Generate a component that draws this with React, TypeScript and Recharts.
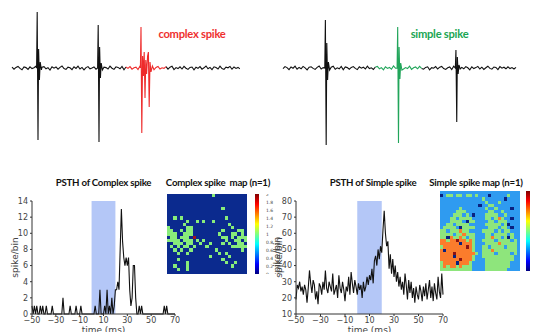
import React from "react";
import {Bar, BarChart, Label, Line, LineChart, ReferenceArea, Scatter, ScatterChart, XAxis, YAxis} from "recharts";

// raw recordings, µV, one noise sample per step
const complexNoise = [
    4, -6, 3, 8, -2, -9, 5, 2, -7, 6, -3, 1, 9, -5,
    -8, 4, 7, -4, 2, -10, 6, -1, 5, -6, 3, 10, -3, -7,
    4, 1, -8, 6, -2, 9, -5, 3, -9, 2, 7, -4, 0, 5,
    -6, 8, -3, -8, 4, 2, -5, 9, -1, -7, 6, 3, -4, 8,
    -9, 5, -2, 7, -6, 1, 4, -8, 10, -3, 5, -7, 2, 6,
    -4, -9, 3, 8, -5, 1, -2, 7, -6, 4, 9, -8, 2, -3,
    6, -5, 8, -1, -7, 3, 5, -9, 4, -2, 7, -6, 1, 10,
    -4, 3, -8, 6, 2, -5, 9, -3, -7, 4, 1, 8, -6, 5, -2, 3, -4,
];
const simpleNoise = [
    -3, 7, 2, -8, 5, -1, 9, -6, 3, -4, 8, 1, -9, 4,
    6, -2, -7, 3, 10, -5, 2, -8, 7, -3, 4, 9, -6, 1,
    -4, 8, -9, 5, 2, -6, 3, 7, -2, -8, 6, -1, 4, -5,
    9, -3, 1, -7, 5, 8, -4, 2, -9, 6, -2, 3, -6, 10,
    -1, -8, 4, 7, -5, 2, -3, 9, -7, 1, 5, -4, 8, -2,
    -6, 3, 6, -9, 2, -1, 7, -5, 4, 8, -3, -7, 1, 5,
    -8, 9, -2, 4, -6, 3, -4, 7, 1, -9, 6, -3, 2, 8,
    -5, 4, -7, 1, 9, -2, -6, 5, 3, -8, 7, -1, 4, -4, 6, -3, 2, -5, 3,
];

type Spike = { t: number; wave: number[][] };

// spike onset (sample) and waveform [offset, µV]
const complexTraceSpikes: Spike[] = [
    {t: 12.3, wave: [[0, 0], [0.3, 280], [0.7, -360], [1.0, 95], [1.4, -60], [1.8, 30], [2.4, -10]]},
    {t: 42.8, wave: [[0, 0], [0.3, 215], [0.7, -370], [1.0, 105], [1.4, -50], [1.8, 25], [2.4, -10]]},
    {
        t: 64.2, wave: [[0, 0], [0.3, 205], [0.7, -325], [1.1, 60], [1.5, -40], [1.9, 80], [2.3, -150],
            [2.7, 40], [3.1, -30], [3.6, 60], [4.0, 80], [4.4, -195], [4.8, 30], [5.3, -20], [6.0, 10]]
    },
];
const simpleTraceSpikes: Spike[] = [
    {t: 20.8, wave: [[0, 0], [0.3, 240], [0.7, -385], [1.0, 125], [1.4, -60], [1.8, 30], [2.4, -10]]},
    {t: 56.8, wave: [[0, 0], [0.3, 205], [0.7, -375], [1.0, 105], [1.4, -55], [1.8, 25], [2.4, -10]]},
    {t: 85.8, wave: [[0, 0], [0.3, 90], [0.7, -270], [1.0, 55], [1.4, -30], [1.8, 15], [2.4, -5]]},
];

const complexWindow = [57, 77];
const simpleWindow = [46, 69];

// PSTH, 1 ms bins
const psthStart = -50;
const complexCounts = [
    1, 0, 1, 0, 1, 0, 0, 1, 0, 1,
    0, 0, 1, 0, 0, 0, 0, 1, 0, 0,
    0, 0, 0, 0, 0, 0, 2, 0, 0, 0,
    0, 0, 1, 0, 0, 0, 0, 1, 0, 0,
    0, 1, 0, 0, 0, 0, 0, 0, 0, 0,
    0, 0, 0, 1, 0, 0, 0, 3, 0, 0,
    0, 1, 0, 3, 0, 1, 0, 2, 0, 1,
    3, 3, 4, 3, 8, 13, 9, 7, 6, 7,
    6, 7, 3, 1, 2, 6, 6, 2, 0, 0,
    1, 0, 1, 0, 0, 0, 0, 0, 0, 0,
    0, 0, 0, 0, 0, 0, 0, 0, 0, 0,
    0, 1, 0, 1, 0, 0, 0, 0, 0, 0,
    0,
];
const simpleCounts = [
    19, 28, 26, 30, 24, 27, 22, 28, 25, 17,
    26, 37, 29, 23, 31, 28, 19, 24, 16, 29,
    27, 22, 30, 25, 37, 26, 23, 30, 27, 24,
    35, 22, 25, 28, 20, 34, 26, 23, 30, 25,
    18, 27, 24, 33, 22, 36, 29, 23, 31, 27,
    22, 29, 25, 28, 20, 30, 24, 27, 33, 28,
    34, 31, 38, 29, 43, 46, 40, 50, 44, 52,
    48, 62, 74, 60, 52, 55, 38, 47, 35, 44,
    33, 40, 30, 36, 27, 33, 25, 30, 22, 35,
    28, 19, 31, 23, 30, 20, 26, 17, 27, 22,
    19, 28, 24, 18, 27, 21, 29, 19, 25, 31,
    20, 27, 18, 29, 23, 19, 33, 24, 20, 35,
    22,
];
const timeTicks = [-50, -30, -10, 10, 30, 50, 70];
const complexTicks = [0, 2, 4, 6, 8, 10, 12, 14];
const simpleTicks = [10, 20, 30, 40, 50, 60, 70, 80];
const stimWindow = [0, 20];

// firing maps, one digit per pixel
const complexMap = [
    "0000000000000010000000000",
    "0000000000000000000000000",
    "0000000000000000000000000",
    "0000000000000000000000000",
    "0000000000000000010000000",
    "0000000000000000000000000",
    "0000000000000000000000000",
    "0010100000000000001000000",
    "0000001001010010000000000",
    "0000010000000000000100000",
    "1000001100000000000010000",
    "1100101100000000010000110",
    "1110011100000000100011010",
    "0110111020000000011010111",
    "1111011101010000001001101",
    "0011101100100100010100110",
    "0101011010001000000011111",
    "0010100100000001000000010",
    "0001001000000000101000000",
    "0000000000000100000100000",
    "0001000000000000010000000",
    "0000001000000000001001000",
    "0010001000000000000010000",
    "0001001000000000000000000",
    "0000000000000000000000000",
];
const simpleMap = [
    "1111111111111111111111111",
    "0122122122121110111112111",
    "1111111111111211111101111",
    "1111111111111121112111111",
    "1111111111110112211111111",
    "1111112111111121121111011",
    "1111122211111112211211111",
    "1111222121011122221121111",
    "1112212222111122123211011",
    "1112222102211112212221111",
    "1122122221111122222120111",
    "1222210222211112221221011",
    "2212223221111222212122111",
    "2222122322211122122221211",
    "2203223212211122322120211",
    "3323343323211222212222121",
    "3333330333211122223222221",
    "2333333343211221222212221",
    "3033333333211222322222221",
    "3333433333321222212222121",
    "3333033333211222222222211",
    "3333334333211122222222211",
    "2333303332111122222222111",
    "2323323222111122222222111",
    "2222222222111122222221111",
];
const complexBarTicks = [0, 0.2, 0.4, 0.6, 0.8, 1, 1.2, 1.4, 1.6, 1.8, 2];
const simpleBarTicks = [0, 0.5, 1, 1.5, 2, 2.5, 3, 3.5, 4];

const complexPalette = ["#0b2a8e", "#88ec7a", "#a3141a"];
const simplePalette = ["#0b2280", "#2f9bf0", "#8ee57c", "#fb7c2c", "#8c1212"];
const jetStops = ["#000080", "#0000ff", "#00ffff", "#ffff00", "#ff0000", "#800000"];
const jetOffsets = [0, 0.125, 0.375, 0.625, 0.875, 1];

const AXIS_FONT = "DejaVu Sans";
const TEXT = "#444";


function buildTrace(noise: number[], spikes: Spike[], win: number[]) {
    const pts: { t: number; v: number }[] = [];
    noise.forEach((v, i) => {
        const inside = spikes.some(s => i > s.t && i < s.t + s.wave[s.wave.length - 1][0]);
        if (!inside) pts.push({t: i, v});
    });
    spikes.forEach(s => s.wave.forEach(([dt, v]) => pts.push({t: s.t + dt, v})));
    pts.sort((a, b) => a.t - b.t);
    return pts.map(p => ({
        t: p.t,
        base: p.t <= win[0] || p.t >= win[1] ? p.v : null,
        hi: p.t >= win[0] && p.t <= win[1] ? p.v : null,
    }));
}

function Trace(props: { rows: any[]; n: number; width: number; left: number; right: number; color: string }) {
    return <LineChart width={props.width} height={150} data={props.rows}
                      margin={{top: 8, right: props.right, bottom: 2, left: props.left}}>
        <XAxis type="number" dataKey="t" domain={[0, props.n - 1]} hide/>
        <YAxis type="number" domain={[-400, 300]} hide allowDataOverflow/>
        <Line dataKey="base" stroke="#111" strokeWidth={1.1} dot={false} isAnimationActive={false}/>
        <Line dataKey="hi" stroke={props.color} strokeWidth={1.1} dot={false} isAnimationActive={false}/>
    </LineChart>
}

const verticalTitle = (text: string, dx: number, dy: number, size: number) => (p: any) => {
    const vb = p.viewBox;
    const cx = vb.x + dx;
    const cy = vb.y + vb.height / 2 + dy;
    return <text x={cx} y={cy} transform={`rotate(-90 ${cx} ${cy})`} textAnchor="middle" dominantBaseline="central"
                 fontSize={size} fill={TEXT} fontFamily={AXIS_FONT}>{text}</text>
}

function Psth(props: {
    counts: number[]; domain: number[]; ticks: number[]; width: number; yWidth: number; labelDx: number
}) {
    const data = props.counts.map((v, i) => ({t: psthStart + i, v}));
    const axisStyle = {fontSize: 8, fill: TEXT, fontFamily: AXIS_FONT};
    return <LineChart width={props.width} height={144} data={data} margin={{top: 11, right: 5, bottom: 0, left: 0}}>
        <XAxis type="number" dataKey="t" domain={[-50, 70]} ticks={timeTicks} interval={0} height={20}
               tickFormatter={(v: number) => v < 0 ? `\u2212${-v}` : `${v}`}
               tick={axisStyle} tickSize={2} tickMargin={1.5} stroke="#333">
            <Label value="time (ms)" position="insideBottom" offset={1.5} fontSize={9} fill={TEXT}
                   fontFamily={AXIS_FONT}/>
        </XAxis>
        <YAxis type="number" domain={props.domain} ticks={props.ticks} interval={0} width={props.yWidth}
               tick={axisStyle} tickSize={2} tickMargin={2} stroke="#333">
            <Label content={verticalTitle("spike/bin", props.labelDx, 0, 9)}/>
        </YAxis>
        <Line dataKey="v" stroke="#111" strokeWidth={1.1} dot={false} isAnimationActive={false}/>
        <ReferenceArea x1={stimWindow[0]} x2={stimWindow[1]} y1={props.domain[0]} y2={props.domain[1]}
                       fill="#6a8ff0" fillOpacity={0.5} stroke="none"/>
    </LineChart>
}

function HeatMap(props: { rows: string[]; palette: string[]; size: number }) {
    const n = props.rows.length;
    const cells = props.rows.flatMap((row, r) =>
        row.split("").map((ch, c) => ({x: c + 0.5, y: r + 0.5, v: Number(ch)})));
    const cw = props.size / n;
    return <ScatterChart width={props.size} height={props.size} margin={{top: 0, right: 0, bottom: 0, left: 0}}>
        <XAxis type="number" dataKey="x" domain={[0, n]} hide/>
        <YAxis type="number" dataKey="y" domain={[0, n]} reversed hide/>
        <Scatter data={cells} isAnimationActive={false}
                 shape={(p: any) => <rect x={p.cx - cw / 2} y={p.cy - cw / 2} width={cw + 0.6} height={cw + 0.6}
                                          shapeRendering="crispEdges" stroke="none"
                                          fill={props.palette[p.payload.v]}/>}/>
    </ScatterChart>
}

function ColorBar(props: { id: string; max: number; ticks: number[] }) {
    return <BarChart width={34} height={80} data={[{k: "c", v: props.max}]} barCategoryGap={0}
                     margin={{top: 0, right: 0, bottom: 0, left: 0}}>
        <defs>
            <linearGradient id={props.id} x1="0" y1="1" x2="0" y2="0">
                {jetStops.map((c, i) => <stop key={i} offset={jetOffsets[i]} stopColor={c}/>)}
            </linearGradient>
        </defs>
        <XAxis dataKey="k" hide/>
        <YAxis orientation="right" type="number" domain={[0, props.max]} ticks={props.ticks} interval={0} width={30}
               axisLine={false} tickLine={false} tickMargin={1}
               tick={{fontSize: 4.5, fill: TEXT, fontFamily: AXIS_FONT}}>
            <Label content={verticalTitle("spike/bin", 18, 23, 9)}/>
        </YAxis>
        <Bar dataKey="v" fill={`url(#${props.id})`} isAnimationActive={false}/>
    </BarChart>
}

function Title(props: { text: string; cx: number; baseline: number; size: number; color?: string }) {
    return <div style={{
        position: "absolute", left: props.cx, top: props.baseline - 0.887 * props.size,
        transform: "translateX(-50%)", fontFamily: "Lato, sans-serif", fontWeight: 700,
        fontSize: props.size, lineHeight: 1, color: props.color ?? "#111", whiteSpace: "pre", letterSpacing: -0.25,
    }}>{props.text}</div>
}

const at = (left: number, top: number) => ({position: "absolute" as const, left, top});

export default function App() {
    const complexTrace = buildTrace(complexNoise, complexTraceSpikes, complexWindow);
    const simpleTrace = buildTrace(simpleNoise, simpleTraceSpikes, simpleWindow);
    return (
        <div style={{position: "absolute", left: 0, top: 0, width: 536, height: 332, overflow: "hidden", background: "#fff"}}>
            <div style={at(0, 0)}>
                <Trace rows={complexTrace} n={complexNoise.length} width={240} left={12} right={0} color="#ee2b2b"/>
            </div>
            <div style={at(268, 0)}>
                <Trace rows={simpleTrace} n={simpleNoise.length} width={250} left={15} right={2} color="#21a55a"/>
            </div>
            <Title text="complex spike" cx={192} baseline={38} size={11.2} color="#ef2f2f"/>
            <Title text="simple spike" cx={439.5} baseline={38} size={11.2} color="#1aa553"/>

            <div style={at(0, 190)}>
                <Psth counts={complexCounts} domain={[0, 14]} ticks={complexTicks} width={180} yWidth={32} labelDx={14.5}/>
            </div>
            <div style={at(260, 190)}>
                <Psth counts={simpleCounts} domain={[10, 80]} ticks={simpleTicks} width={188} yWidth={36} labelDx={19}/>
            </div>
            <Title text="PSTH of Complex spike" cx={103.5} baseline={187} size={9.7}/>
            <Title text="PSTH of Simple spike" cx={373} baseline={187} size={9.7}/>

            <div style={at(167, 194)}>
                <HeatMap rows={complexMap} palette={complexPalette} size={80}/>
            </div>
            <div style={at(255, 194)}>
                <ColorBar id="jetComplex" max={2} ticks={complexBarTicks}/>
            </div>
            <div style={at(440, 191)}>
                <HeatMap rows={simpleMap} palette={simplePalette} size={80}/>
            </div>
            <div style={at(526, 191)}>
                <ColorBar id="jetSimple" max={4} ticks={simpleBarTicks}/>
            </div>
            <Title text="Complex spike  map (n=1)" cx={218} baseline={187} size={9.7}/>
            <Title text="Simple spike map (n=1)" cx={476} baseline={187} size={9.7}/>
        </div>
    );
}
